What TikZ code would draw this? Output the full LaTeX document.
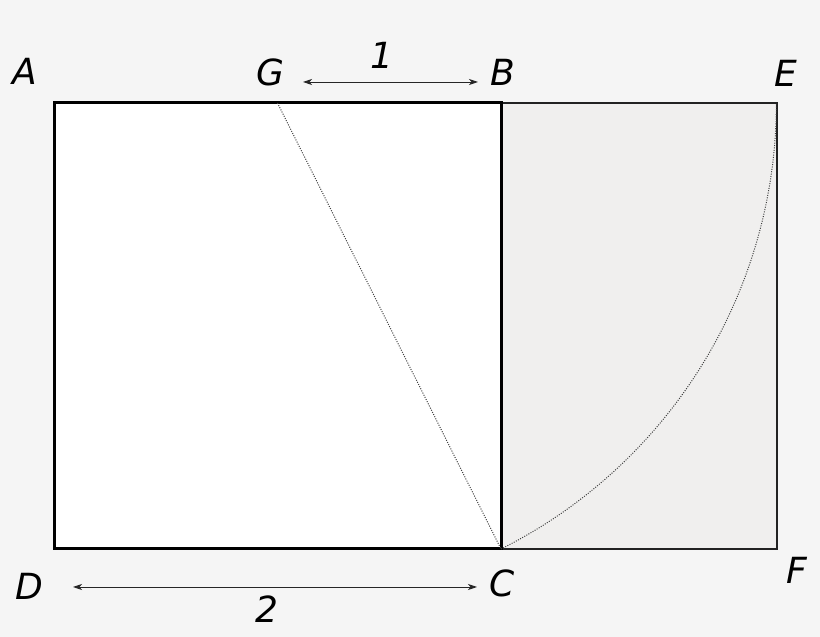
\documentclass[tikz,border=0pt]{standalone}
\usepackage{fontspec}
\setmainfont{DejaVu Sans}
\usetikzlibrary{arrows.meta}
\definecolor{bg}{HTML}{F5F5F5}
\definecolor{panel}{HTML}{F0EFEE}
\definecolor{edge}{HTML}{222222}
\tikzset{
  lbl/.style={inner sep=0pt, font=\fontsize{36}{40}\selectfont\itshape},
  dotline/.style={draw=black!75, line width=1pt, dash pattern=on 1pt off 1.4pt},
  dimarrow/.style={draw=black!85, line width=0.9pt, {Stealth[length=9pt,width=6pt,inset=2.5pt]}-{Stealth[length=9pt,width=6pt,inset=2.5pt]}},
}
\begin{document}
\begin{tikzpicture}[x=1pt,y=1pt]
\fill[bg] (0,0) rectangle (820,637);
\useasboundingbox (0,0) rectangle (820,637);
% corners
\coordinate (A) at (54,534);
\coordinate (B) at (501,534);
\coordinate (C) at (501,88);
\coordinate (D) at (54,88);
\coordinate (G) at (277.5,534);
\coordinate (E) at (775.6,534);
\coordinate (F) at (777.2,88);
% right rectangle
\filldraw[fill=panel, draw=edge, line width=2pt] (B) rectangle (F);
% square
\filldraw[fill=white, draw=black, line width=3pt] (A) rectangle (C);
% dotted construction lines
\draw[dotline] (G) -- (C);
\draw[dotline] (C) arc[start angle=-63.38, end angle=0, radius=498.9pt];
% labels
\node[lbl] (lA) at (25,566) {A};
\node[lbl] (lG) at (270,565) {G};
\node[lbl] (lB) at (503,565) {B};
\node[lbl] (lE) at (786,564) {E};
\node[lbl] (lD) at (29,51) {D};
\node[lbl] (lC) at (502,54) {C};
\node[lbl] (lF) at (797,67) {F};
\node[lbl] (l1) at (382,582) {1};
\node[lbl] (l2) at (267,28) {2};
% dimension arrows
\coordinate (gb1) at (303,555);
\coordinate (gb2) at (478,555);
\coordinate (dc1) at (73,50);
\coordinate (dc2) at (477,50);
\draw[dimarrow] (gb1) -- (gb2);
\draw[dimarrow] (dc1) -- (dc2);
\end{tikzpicture}
\end{document}
